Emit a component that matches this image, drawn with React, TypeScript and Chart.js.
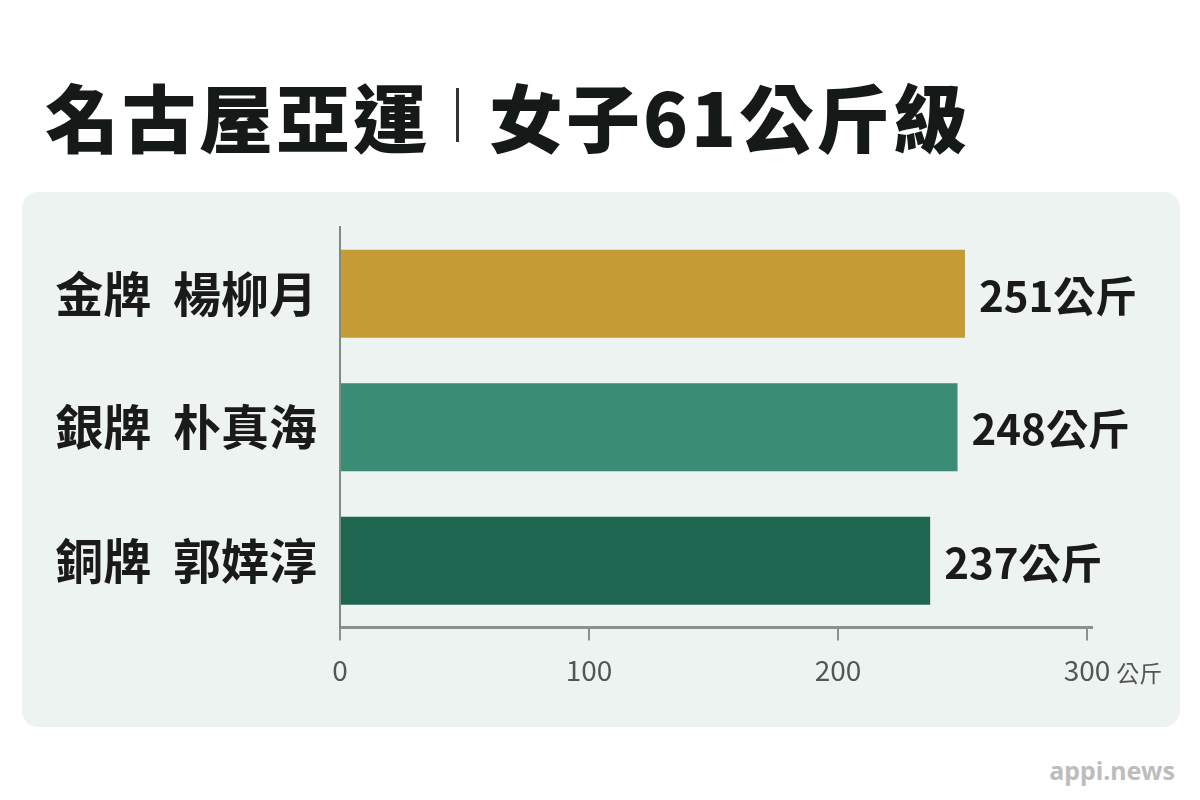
import React, { useEffect, useRef } from 'react';
import { Chart, registerables } from 'chart.js';

Chart.register(...registerables);

// data
const athletes = ['金牌  楊柳月', '銀牌  朴真海', '銅牌  郭婞淳'];
const totals = [251, 248, 237];
const barColors = ['#c49c35', '#3a8d74', '#1f6650'];
const xTicks = [0, 100, 200, 300];
const unit = '公斤';

const FONT = '"Noto Sans CJK TC", "Noto Sans", sans-serif';

// draws "251公斤" after each bar and the unit after the last x tick
const valueLabels = {
    id: 'valueLabels',
    afterDraw(chart: any) {
        const ctx = chart.ctx;
        const meta = chart.getDatasetMeta(0);
        ctx.save();
        ctx.font = `bold 42px ${FONT}`;
        ctx.fillStyle = '#1a1a1a';
        ctx.textBaseline = 'middle';
        ctx.textAlign = 'left';
        meta.data.forEach((bar: any, i: number) => {
            ctx.fillText(`${totals[i]}${unit}`, bar.x + 14, bar.y + 2);
        });

        const xs = chart.scales.x;
        const last = xTicks[xTicks.length - 1];
        ctx.font = `normal 28px ${FONT}`;
        const w = ctx.measureText(String(last)).width;
        ctx.font = `normal 23px ${FONT}`;
        ctx.fillStyle = '#555';
        ctx.fillText(unit, xs.getPixelForValue(last) + w / 2 + 6, xs.top + 46);
        ctx.restore();
    },
};

const App: React.FC = () => {
    const canvasRef = useRef<HTMLCanvasElement | null>(null);

    useEffect(() => {
        if (!canvasRef.current) return;
        const chart = new Chart(canvasRef.current, {
            type: 'bar',
            data: {
                labels: athletes,
                datasets: [
                    {
                        data: totals,
                        backgroundColor: barColors,
                        barPercentage: 0.66,
                        categoryPercentage: 1,
                    },
                ],
            },
            options: {
                indexAxis: 'y',
                animation: false,
                responsive: true,
                maintainAspectRatio: false,
                layout: { padding: { top: 35, right: 88, left: 0, bottom: 0 } },
                plugins: {
                    legend: { display: false },
                    tooltip: { enabled: false },
                },
                scales: {
                    x: {
                        min: 0,
                        max: 302,
                        afterBuildTicks: (scale: any) => {
                            scale.ticks = xTicks.map((v) => ({ value: v }));
                        },
                        afterFit: (scale: any) => {
                            scale.height = 99.5;
                            scale.paddingLeft = 0;
                            scale.paddingRight = 0;
                        },
                        border: { display: true, color: '#8a918f', width: 3 },
                        grid: {
                            display: true,
                            drawOnChartArea: false,
                            drawTicks: true,
                            tickLength: 13,
                            color: '#8a918f',
                            lineWidth: 2,
                        },
                        ticks: {
                            padding: 13,
                            color: '#555',
                            font: { family: FONT, size: 28, weight: 'normal' },
                        },
                    },
                    y: {
                        afterFit: (scale: any) => {
                            scale.width = 318;
                            scale.paddingTop = 0;
                            scale.paddingBottom = 0;
                        },
                        border: { display: true, color: '#7d8b87', width: 2 },
                        grid: { display: false, drawTicks: false },
                        ticks: {
                            padding: 23,
                            color: '#1a1a1a',
                            font: { family: FONT, size: 48, weight: 'bold' },
                        },
                    },
                },
            },
            plugins: [valueLabels],
        });
        return () => chart.destroy();
    }, []);

    return (
        <div
            style={{
                position: 'absolute',
                left: 0,
                top: 0,
                width: 1200,
                height: 800,
                background: '#ffffff',
                fontFamily: FONT,
                overflow: 'hidden',
            }}
        >
            <div
                style={{
                    position: 'absolute',
                    left: 45,
                    top: 78,
                    fontSize: 74,
                    lineHeight: 1,
                    fontWeight: 900,
                    color: '#151a18',
                    letterSpacing: 3,
                    whiteSpace: 'nowrap',
                    display: 'flex',
                    alignItems: 'center',
                }}
            >
                <span>名古屋亞運</span>
                <span
                    style={{
                        display: 'inline-block',
                        width: 3,
                        height: 54,
                        background: '#333',
                        margin: '0 30px 0 26px',
                    }}
                />
                <span>女子61公斤級</span>
            </div>

            <div
                style={{
                    position: 'absolute',
                    left: 22,
                    top: 192,
                    width: 1158,
                    height: 535,
                    background: '#edf3f1',
                    borderRadius: 16,
                }}
            >
                <canvas ref={canvasRef}></canvas>
            </div>

            <div
                style={{
                    position: 'absolute',
                    right: 25,
                    top: 753,
                    fontSize: 25,
                    fontWeight: 'bold',
                    color: '#bdbdbd',
                    fontFamily: '"Noto Sans", sans-serif',
                }}
            >
                appi.news
            </div>
        </div>
    );
};

export default App;
